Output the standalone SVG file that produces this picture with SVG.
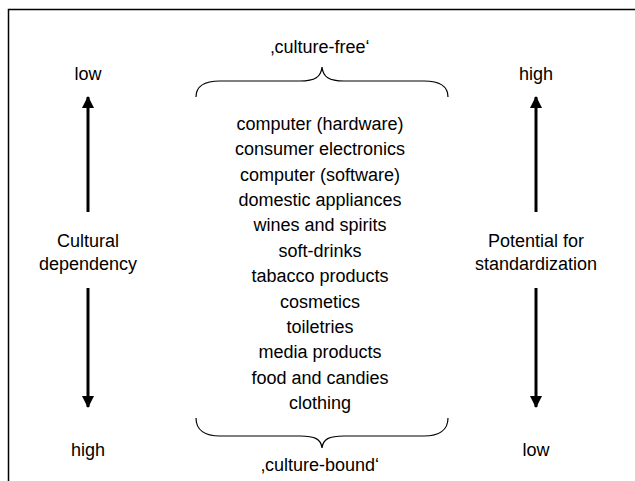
<svg xmlns="http://www.w3.org/2000/svg" width="635" height="481" viewBox="0 0 635 481">
<defs>
<style>
text{font-family:"Liberation Sans",Arial,sans-serif;font-size:18px;fill:#000;text-anchor:middle}
.ax{stroke:#000;stroke-width:3;fill:none}
.br{stroke:#000;stroke-width:1.2;fill:none}
</style>
<marker id="ah" viewBox="0 0 12 16" refX="11" refY="6" markerWidth="12" markerHeight="16" markerUnits="userSpaceOnUse" orient="auto">
<path d="M0,0 L12,6 L0,12 Z" fill="#000"/>
</marker>
</defs>
<rect width="635" height="481" fill="#fff"/>
<path d="M8.5,481 V9.5 H635" stroke="#000" stroke-width="1.5" fill="none"/>
<g id="connectors">
<path class="ax" d="M88,212 V97" marker-end="url(#ah)"/>
<path class="ax" d="M88,288 V407" marker-end="url(#ah)"/>
<path class="ax" d="M536,212 V97" marker-end="url(#ah)"/>
<path class="ax" d="M536,288 V407" marker-end="url(#ah)"/>
</g>
<g id="left-axis">
<text x="88" y="80">low</text>
<text x="88" y="247">Cultural</text>
<text x="88" y="270">dependency</text>
<text x="88" y="456">high</text>
</g>
<g id="right-axis">
<text x="536" y="80">high</text>
<text x="536" y="247">Potential for</text>
<text x="536" y="270">standardization</text>
<text x="536" y="456">low</text>
</g>
<g id="top-brace">
<text x="320" y="53">‚culture-free‘</text>
<path class="br" d="M196,97 C196,85 205,81 220,81 L300,81 C315,81 321,77 322,67 C323,77 329,81 344,81 L424,81 C439,81 448,85 448,97"/>
</g>
<g id="bottom-brace">
<path class="br" d="M196,418 C196,430 205,436 220,436 L300,436 C315,436 321,439 322,448 C323,439 329,436 344,436 L424,436 C439,436 448,430 448,418"/>
<text x="320" y="471">‚culture-bound‘</text>
</g>
<g id="products">
<text x="320" y="130">computer (hardware)</text>
<text x="320" y="155">consumer electronics</text>
<text x="320" y="181">computer (software)</text>
<text x="320" y="206">domestic appliances</text>
<text x="320" y="231">wines and spirits</text>
<text x="320" y="257">soft-drinks</text>
<text x="320" y="282">tabacco products</text>
<text x="320" y="308">cosmetics</text>
<text x="320" y="333">toiletries</text>
<text x="320" y="358">media products</text>
<text x="320" y="384">food and candies</text>
<text x="320" y="409">clothing</text>
</g>
</svg>
